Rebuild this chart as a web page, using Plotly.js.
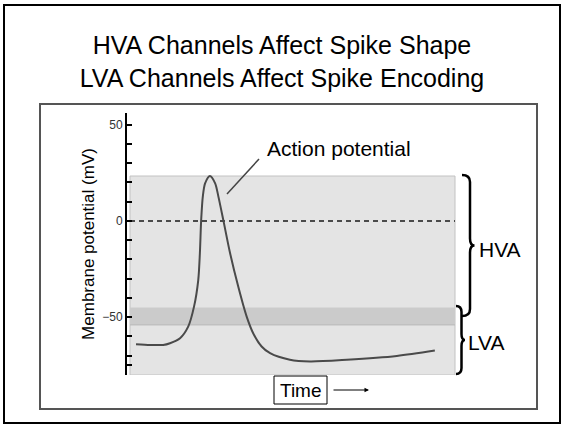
<!DOCTYPE html>
<html>
<head>
<meta charset="utf-8">
<script src="https://cdn.plot.ly/plotly-3.0.1.min.js"></script>
<style>html,body{margin:0;padding:0;background:#fff;}#chart{width:564px;height:426px;}</style>
</head>
<body>
<div id="chart"></div>
<script>
// ---- data ----
const time = [1.85, 6.2, 10.2, 12.3, 15.4, 17.9, 19.7, 21.0, 21.5, 21.9, 22.4, 23.1, 24.6, 26.2, 27.2, 28.7, 30.8, 33.3, 35.9, 37.9, 40.5, 43.1, 49.2, 55.4, 66.7, 82.1, 93.8];
const voltage = [-64.0, -64.4, -64.4, -63.5, -60.9, -54.9, -44.5, -30.7, -16.8, 0.5, 12.6, 19.5, 23.3, 19.5, 12.6, 0.5, -16.8, -34.1, -49.7, -58.3, -65.2, -68.7, -72.1, -73.0, -72.1, -70.1, -67.3];
const timeSpan = [0, 100];
const hvaRegion = [-80, 23.3];
const lvaBand = [-54, -45];
const zeroLevel = 0;
const tickVals = [-80, -75, -70, -60, -50, -40, -30, -20, -10, 0, 10, 20, 30, 40, 50, 56];
const tickText = ['', '', '', '', '\u221250', '', '', '', '', '0', '', '', '', '', '50', ''];
const titleLines = ['HVA Channels Affect Spike Shape', 'LVA Channels Affect Spike Encoding'];

// ---- layout helpers (pixel -> paper) ----
const L = 127, R = 530, T = 113, B = 375;
const px = x => (x - L) / (R - L);
const py = y => (B - y) / (B - T);
function brace(x0, x1, x2, yt, yb, r) {
  const ym = (yt + yb) / 2;
  const p = (x, y) => px(x) + ',' + py(y);
  return 'M' + p(x0, yt) + ' Q' + p(x1, yt) + ' ' + p(x1, yt + r) +
    ' L' + p(x1, ym - r) + ' Q' + p(x1, ym) + ' ' + p(x2, ym) +
    ' Q' + p(x1, ym) + ' ' + p(x1, ym + r) +
    ' L' + p(x1, yb - r) + ' Q' + p(x1, yb) + ' ' + p(x0, yb);
}
const FONT = 'Liberation Sans, Arial, Helvetica, sans-serif';

const trace = {
  x: time, y: voltage, type: 'scatter', mode: 'lines',
  line: {color: '#4a4a4a', width: 2, shape: 'spline', smoothing: 0.8},
  hoverinfo: 'skip', showlegend: false
};

const layout = {
  width: 564, height: 426,
  margin: {l: L, r: 564 - R, t: T, b: 426 - B},
  paper_bgcolor: '#ffffff', plot_bgcolor: 'rgba(0,0,0,0)',
  font: {family: FONT, color: '#000'},
  title: {
    text: titleLines.join('<br>'),
    font: {family: FONT, size: 25, color: '#000'},
    x: 0.5, xref: 'container', xanchor: 'center',
    y: 1 - 54 / 426, yref: 'container', yanchor: 'top'
  },
  xaxis: {
    range: [-3 / 3.25, 100 + 75 / 3.25],
    visible: false, showgrid: false, zeroline: false, fixedrange: true
  },
  yaxis: {
    range: [-80, 56], showgrid: false, zeroline: false,
    showline: true, linecolor: '#000', linewidth: 2,
    ticks: 'inside', ticklen: 5, tickwidth: 2, tickcolor: '#000',
    tickmode: 'array', tickvals: tickVals, ticktext: tickText,
    tickfont: {family: FONT, size: 12, color: '#333'},
    title: {text: 'Membrane potential (mV)', font: {family: FONT, size: 17, color: '#000'}, standoff: 3}
  },
  shapes: [
    // outer frame
    {type: 'rect', xref: 'paper', yref: 'paper', layer: 'below',
     x0: px(4), x1: px(560), y0: py(423), y1: py(5), line: {color: '#000', width: 2}},
    // inner frame
    {type: 'rect', xref: 'paper', yref: 'paper', layer: 'below',
     x0: px(40), x1: px(537), y0: py(409), y1: py(104), line: {color: '#555', width: 2}},
    // HVA shaded region
    {type: 'rect', xref: 'x', yref: 'y', layer: 'below',
     x0: timeSpan[0], x1: timeSpan[1], y0: hvaRegion[0], y1: hvaRegion[1],
     fillcolor: '#e4e4e4', line: {color: '#c2c2c2', width: 1}},
    // LVA band
    {type: 'rect', xref: 'x', yref: 'y', layer: 'below',
     x0: timeSpan[0], x1: timeSpan[1], y0: lvaBand[0], y1: lvaBand[1],
     fillcolor: '#cbcbcb', line: {width: 0}},
    {type: 'line', xref: 'x', yref: 'y', layer: 'below',
     x0: timeSpan[0], x1: timeSpan[1], y0: lvaBand[0], y1: lvaBand[0],
     line: {color: '#b8b8b8', width: 1}},
    // zero dashed line
    {type: 'line', xref: 'x', yref: 'y', layer: 'below',
     x0: timeSpan[0], x1: timeSpan[1], y0: zeroLevel, y1: zeroLevel,
     line: {color: '#4a4a4a', width: 2, dash: '5px,4px'}},
    // action potential pointer
    {type: 'line', xref: 'paper', yref: 'paper',
     x0: px(227), y0: py(194), x1: px(259), y1: py(159), line: {color: '#444', width: 1.5}},
    // braces
    {type: 'path', xref: 'paper', yref: 'paper', path: brace(462, 470, 474.5, 175, 316, 7),
     line: {color: '#000', width: 2.5}},
    {type: 'path', xref: 'paper', yref: 'paper', path: brace(456, 461.5, 465, 306, 374, 6),
     line: {color: '#000', width: 2.5}},
    // Time box
    {type: 'rect', xref: 'paper', yref: 'paper',
     x0: px(274), x1: px(327), y0: py(404), y1: py(376), line: {color: '#000', width: 1}, fillcolor: '#fff'}
  ],
  annotations: [
    {xref: 'paper', yref: 'paper', x: px(265), y: py(148), xanchor: 'left', yanchor: 'middle',
     text: 'Action potential', showarrow: false, font: {family: FONT, size: 21, color: '#000'}},
    {xref: 'paper', yref: 'paper', x: px(477), y: py(249), xanchor: 'left', yanchor: 'middle',
     text: 'HVA', showarrow: false, font: {family: FONT, size: 21, color: '#000'}},
    {xref: 'paper', yref: 'paper', x: px(466), y: py(342), xanchor: 'left', yanchor: 'middle',
     text: 'LVA', showarrow: false, font: {family: FONT, size: 21, color: '#000'}},
    {xref: 'paper', yref: 'paper', x: px(300.5), y: py(390), xanchor: 'center', yanchor: 'middle',
     text: 'Time', showarrow: false, font: {family: FONT, size: 19, color: '#000'}},
    {xref: 'paper', yref: 'paper', x: px(369), y: py(390), ax: -37, ay: 0, text: '',
     showarrow: true, arrowhead: 2, arrowsize: 0.9, arrowwidth: 1, arrowcolor: '#000', standoff: 0}
  ]
};

Plotly.newPlot('chart', [trace], layout, {displayModeBar: false, staticPlot: true});
</script>
</body>
</html>
